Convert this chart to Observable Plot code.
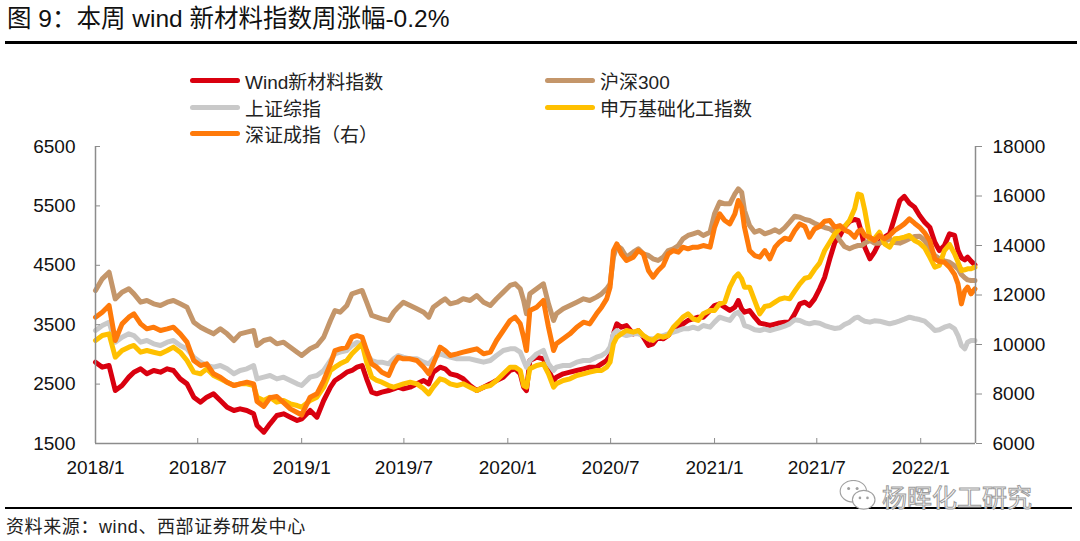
<!DOCTYPE html>
<html><head><meta charset="utf-8">
<script src="https://cdn.jsdelivr.net/npm/d3@7"></script>
<script src="https://cdn.jsdelivr.net/npm/@observablehq/plot@0.6"></script>
<style>
body{margin:0;background:#fff;}
#wrap{position:relative;width:1080px;height:541px;overflow:hidden;background:#fff;font-family:"Liberation Sans","Noto Sans CJK SC",sans-serif;color:#000;}
#title{position:absolute;left:7px;top:4px;font-size:24.5px;line-height:30px;white-space:nowrap;color:#111;}
.rule{position:absolute;background:#000;}
#chart{position:absolute;left:0;top:50px;}
.leg{position:absolute;height:26px;display:flex;align-items:center;font-size:19px;color:#222;white-space:nowrap;font-family:"Liberation Sans","Noto Sans CJK SC",sans-serif;}
.sw{display:inline-block;width:50px;height:5px;border-radius:3px;margin-right:5px;}
#caption{position:absolute;left:6px;top:514px;font-size:18px;line-height:26px;letter-spacing:0.6px;color:#222;font-family:"Liberation Sans","Noto Sans CJK SC",sans-serif;white-space:nowrap;}
#wm{position:absolute;left:836px;top:483px;height:26px;display:flex;align-items:center;}
#wm span{font-family:"Noto Sans CJK SC",sans-serif;font-size:25px;line-height:25px;color:#fff;-webkit-text-stroke:1px #9c9c9c;}
</style></head><body>
<div id="wrap">
  <div id="title">图 9：本周 wind 新材料指数周涨幅-0.2%</div>
  <div class="rule" style="left:5px;top:41px;width:1072px;height:3px;"></div>
  <div id="chart"></div>
  <div id="legend"></div>
  <div class="rule" style="left:5px;top:507px;width:1067px;height:2px;"></div>
  <div id="caption">资料来源：wind、西部证券研发中心</div>
  <div id="wm">
    <svg width="46" height="32" viewBox="0 3 46 34">
      <ellipse cx="17" cy="15" rx="14" ry="11.5" fill="#fff" stroke="#a0a0a0" stroke-width="1.2"/>
      <ellipse cx="28" cy="24" rx="12" ry="10" fill="#fff" stroke="#a0a0a0" stroke-width="1.2"/>
      <circle cx="12" cy="12" r="1.6" fill="#a0a0a0"/><circle cx="21" cy="12" r="1.6" fill="#a0a0a0"/>
      <circle cx="24" cy="22" r="1.4" fill="#a0a0a0"/><circle cx="32" cy="22" r="1.4" fill="#a0a0a0"/>
    </svg>
    <span>杨晖化工研究</span>
  </div>
</div>
<script>
// ---- data ----
const dates = [
"2018-01-01","2018-01-13","2018-01-25","2018-02-05","2018-02-17","2018-03-01","2018-03-10","2018-03-22","2018-04-02","2018-04-14","2018-04-26","2018-05-08","2018-05-19","2018-05-31","2018-06-12","2018-06-24","2018-07-06","2018-07-17","2018-07-29","2018-08-10","2018-08-22","2018-09-03","2018-09-14","2018-09-26","2018-10-08","2018-10-14","2018-10-26","2018-11-06","2018-11-18","2018-11-30","2018-12-12","2018-12-24","2019-01-01",
"2019-01-16","2019-01-28","2019-02-09","2019-02-21","2019-03-01","2019-03-10","2019-03-22","2019-03-31","2019-04-09","2019-04-18","2019-04-26","2019-05-05","2019-05-14","2019-05-23","2019-06-04","2019-06-13","2019-06-21","2019-06-30","2019-07-12","2019-07-24","2019-08-05","2019-08-14","2019-08-22","2019-09-03","2019-09-12","2019-09-21","2019-10-03","2019-10-14","2019-10-26","2019-11-07","2019-11-19","2019-12-01","2019-12-12","2019-12-24","2020-01-05","2020-01-14","2020-01-23","2020-01-29","2020-02-03",
"2020-02-09","2020-02-21","2020-03-04","2020-03-13","2020-03-22","2020-03-27","2020-04-08","2020-04-20","2020-05-02","2020-05-14","2020-05-25","2020-06-06","2020-06-15","2020-06-24","2020-06-30","2020-07-06","2020-07-12","2020-07-20","2020-07-29","2020-08-10","2020-08-19","2020-08-28","2020-09-06","2020-09-14","2020-09-23","2020-10-02","2020-10-11","2020-10-20","2020-10-29","2020-11-06","2020-11-15","2020-11-24","2020-12-03","2020-12-12","2020-12-24","2021-01-01","2021-01-10","2021-01-19","2021-01-28","2021-02-06","2021-02-12","2021-02-18","2021-02-23",
"2021-03-04","2021-03-13","2021-03-22","2021-03-31","2021-04-09","2021-04-18","2021-04-26","2021-05-05","2021-05-14","2021-05-23","2021-06-01","2021-06-10","2021-06-18","2021-06-27","2021-07-06","2021-07-15","2021-07-24","2021-08-02","2021-08-11","2021-08-19","2021-08-28","2021-09-06","2021-09-12","2021-09-18","2021-09-24","2021-10-03","2021-10-11","2021-10-20","2021-10-29","2021-11-07","2021-11-16","2021-11-25","2021-12-03","2021-12-12","2021-12-21","2021-12-30","2022-01-08","2022-01-17","2022-01-26","2022-02-03","2022-02-12","2022-02-21","2022-03-02","2022-03-08","2022-03-14","2022-03-20","2022-03-25","2022-03-31","2022-04-07"
];
const windNewMaterial = [
2869,2785,2813,2392,2476,2617,2701,2757,2673,2729,2701,2757,2729,2588,2504,2280,2196,2280,2336,2224,2111,2055,2083,2055,1999,1803,1690,1831,1971,1999,1943,1887,1915,
2056,1943,2224,2448,2561,2617,2701,2729,2785,2813,2589,2364,2336,2364,2392,2420,2448,2420,2448,2504,2561,2504,2701,2785,2757,2673,2645,2589,2476,2392,2448,2504,2561,2617,2729,2757,2673,2448,2392,
2897,2953,2925,2729,2560,2617,2673,2701,2729,2757,2785,2785,2841,2897,2981,3346,3514,3458,3486,3346,3402,3290,3150,3178,3290,3262,3318,3430,3458,3514,3571,3599,3627,3627,3739,3823,3851,3795,3739,3795,3907,3767,3711,
3739,3627,3526,3509,3486,3509,3531,3543,3543,3683,3851,3879,3823,3935,4104,4300,4609,4889,5002,5142,5237,5271,5254,5058,4805,4609,4721,4889,4974,5030,5310,5591,5660,5546,5479,5338,5226,5142,4889,4749,4833,5030,5002,4749,4626,4592,4637,4570,4508
];
const csi300 = [
4075,4272,4384,3935,4047,4104,4019,3879,3907,3851,3823,3879,3907,3851,3795,3542,3458,3402,3346,3430,3346,3234,3346,3374,3402,3150,3234,3262,3178,3206,3122,3037,2981,
3094,3150,3290,3571,3739,3711,3823,4020,4048,4076,3879,3655,3627,3599,3571,3711,3795,3879,3823,3767,3711,3627,3795,3879,3936,3851,3879,3936,3908,3992,3879,3823,3936,4048,4160,4188,4104,3908,3683,
4020,4104,4188,3851,3571,3683,3767,3823,3879,3935,3907,3964,4020,4104,4188,4637,4833,4777,4637,4721,4777,4693,4665,4609,4581,4637,4749,4777,4833,4946,5002,5030,5058,5002,5058,5366,5563,5535,5535,5703,5787,5731,5423,
5170,5058,5086,5030,5058,5097,5058,5131,5226,5327,5310,5271,5254,5209,5170,5136,5114,5052,4918,4816,4777,4816,4833,4833,4873,4918,4873,4873,4901,4946,4884,4873,4906,4946,4985,4990,4918,4777,4665,4609,4575,4553,4491,4441,4345,4289,4255,4244,4244
];
const sseComposite = [
3402,3486,3542,3206,3290,3346,3318,3206,3234,3178,3150,3206,3234,3150,3093,2953,2869,2813,2785,2813,2757,2673,2729,2757,2813,2588,2617,2645,2588,2617,2560,2504,2476,
2617,2645,2729,2897,3010,3038,3066,3150,3200,3178,3010,2897,2869,2869,2841,2925,2981,2954,2925,2925,2869,2841,2925,3010,2981,2954,2925,2925,2925,2897,2869,2897,2981,3066,3094,3094,3038,2897,2785,
2897,3009,3066,2841,2729,2785,2813,2813,2869,2897,2897,2953,2981,3037,3122,3346,3402,3346,3318,3346,3346,3318,3262,3262,3290,3318,3346,3374,3402,3430,3430,3458,3430,3486,3458,3543,3627,3599,3571,3683,3711,3627,3486,
3458,3414,3402,3425,3402,3425,3447,3475,3514,3582,3571,3531,3514,3537,3526,3486,3458,3436,3447,3503,3543,3610,3627,3587,3559,3543,3565,3559,3537,3514,3537,3565,3593,3627,3604,3587,3559,3486,3402,3414,3458,3486,3430,3318,3150,3094,3206,3234,3234
];
const swChemical = [
3234,3318,3346,2953,3065,3122,3150,3037,3065,3037,3009,3065,3122,3037,2897,2701,2673,2757,2645,2588,2532,2476,2504,2504,2476,2280,2224,2280,2196,2224,2168,2139,2111,
2224,2280,2448,2729,2785,2841,2897,3010,3094,3178,2869,2617,2561,2533,2476,2448,2476,2504,2533,2504,2420,2336,2448,2589,2561,2504,2476,2504,2448,2392,2448,2476,2561,2673,2785,2785,2729,2476,2448,
2757,2813,2841,2673,2448,2504,2560,2589,2645,2673,2701,2729,2729,2785,2869,3178,3290,3346,3402,3374,3402,3318,3262,3234,3318,3290,3318,3458,3543,3627,3683,3599,3571,3683,3739,3739,3851,3879,4132,4300,4356,4272,4132,
4132,3907,3683,3806,3823,3879,3929,3952,3935,4064,4188,4283,4300,4429,4536,4749,4889,5030,5114,5153,5254,5450,5700,5680,5423,4946,4946,5058,4861,4805,4946,4957,4974,5002,4918,4873,4794,4637,4469,4497,4749,4850,4693,4553,4412,4424,4441,4441,4469
];
const szComponent = [
11104,11305,11576,10161,10834,11104,11238,10834,10632,10700,10565,10632,10700,10430,10093,9353,9151,9218,8814,8680,8478,8343,8410,8478,8410,7700,7500,7850,7900,7650,7400,7250,7150,
7872,8006,8545,9218,9757,9824,9891,10296,10363,10296,9757,9218,9083,8881,8747,9218,9487,9420,9420,9353,9083,8814,9218,9891,9757,9555,9622,9690,9757,9824,9622,9690,10161,10565,10969,11104,10834,10296,9757,
11373,11508,11777,10700,9757,10026,10228,10430,10700,10901,10834,11238,11508,11844,12316,13797,14066,13662,13393,13528,13797,13662,12989,12719,12989,13191,13662,13797,13730,13932,13864,13932,13932,13999,13932,14735,15278,15009,14874,15278,15817,15548,14735,
13797,13595,13528,13797,13460,13932,14134,14295,14241,14605,14874,14767,14336,14672,14767,14982,15009,14740,14807,14632,14538,14336,14565,14632,14403,14336,14201,14403,14268,14403,14605,14740,14874,15076,14901,14740,14511,14201,13460,13353,13326,13124,12827,12450,11642,12181,12316,12046,12248
];
const seriesNames = ["Wind新材料指数","沪深300","上证综指","申万基础化工指数","深证成指（右）"];
const seriesColors = ["#D9000F","#C4966A","#C9C9C9","#FFC000","#FF7A0A"];
const rightAxisSeries = "深证成指（右）";
const leftTicks = [1500,2500,3500,4500,5500,6500];
const rightTicks = [6000,8000,10000,12000,14000,16000,18000];
const xTicks = ["2018-01-01","2018-07-01","2019-01-01","2019-07-01","2020-01-01","2020-07-01","2021-01-01","2021-07-01","2022-01-01"];
const xDomainStr = ["2018-01-01","2022-04-08"];

// ---- build ----
const sources = [windNewMaterial, csi300, sseComposite, swChemical, szComponent];
sources.forEach((a,i)=>{ if(a.length!==dates.length) throw new Error(seriesNames[i]+" length "+a.length+" vs "+dates.length); });
const toLeft = d3.scaleLinear().domain([rightTicks[0], rightTicks[rightTicks.length-1]]).range([leftTicks[0], leftTicks[leftTicks.length-1]]);
const rows = [];
sources.forEach((arr,i)=>arr.forEach((v,j)=>rows.push({
  series: seriesNames[i], date: new Date(dates[j]), y: seriesNames[i]===rightAxisSeries ? toLeft(v) : v
})));
const xDomain = xDomainStr.map(d=>new Date(d));
const xTickDates = xTicks.map(d=>new Date(d));
const axisColor = "#8c8c8c";

const chart = Plot.plot({
  width: 1080, height: 440,
  marginTop: 96, marginBottom: 47, marginLeft: 95, marginRight: 105,
  style: {fontFamily: "'Liberation Sans', Arial, sans-serif", fontSize: "19px", color: "#111", background: "transparent", overflow: "visible"},
  x: {type: "utc", domain: xDomain, label: null},
  y: {domain: [leftTicks[0], leftTicks[leftTicks.length-1]], label: null},
  color: {domain: seriesNames, range: seriesColors},
  marks: [
    Plot.line(rows, {x: "date", y: "y", z: "series", stroke: "series", strokeWidth: 5, strokeLinejoin: "round", strokeLinecap: "round"}),
    Plot.ruleX([xDomain[0]], {stroke: axisColor, strokeWidth: 1.5}),
    Plot.ruleX([xDomain[1]], {stroke: axisColor, strokeWidth: 1.5}),
    Plot.ruleY([leftTicks[0]], {stroke: axisColor, strokeWidth: 1.5}),
    Plot.axisY({anchor: "left", ticks: leftTicks, tickSize: 0, tickPadding: 20, tickFormat: d => String(d), label: null, fontSize: 19}),
    Plot.axisY({anchor: "left", ticks: leftTicks, tickSize: 5, dx: 5, tickFormat: () => "", stroke: axisColor, label: null}),
    Plot.axisY({anchor: "right", ticks: rightTicks.map(toLeft), tickSize: 6, tickPadding: 11, tickFormat: d => String(Math.round(toLeft.invert(d))), stroke: axisColor, label: null, fontSize: 19}),
    Plot.axisX({ticks: xTickDates, tickSize: 0, tickPadding: 17, tickFormat: d => `${d.getUTCFullYear()}/${d.getUTCMonth()+1}`, label: null, fontSize: 19}),
    Plot.axisX({ticks: xTickDates, tickSize: 5, dy: -5, tickFormat: () => "", stroke: axisColor, label: null})
  ]
});
document.getElementById("chart").appendChild(chart);

// ---- legend ----
const legendPos = [[190,67],[545,67],[190,94],[545,94],[190,120]];
const legend = document.getElementById("legend");
seriesNames.forEach((name,i)=>{
  const el = document.createElement("div");
  el.className = "leg";
  el.style.left = legendPos[i][0] + "px";
  el.style.top = legendPos[i][1] + "px";
  el.innerHTML = `<span class="sw" style="background:${seriesColors[i]}"></span><span>${name}</span>`;
  legend.appendChild(el);
});
</script>
</body></html>
